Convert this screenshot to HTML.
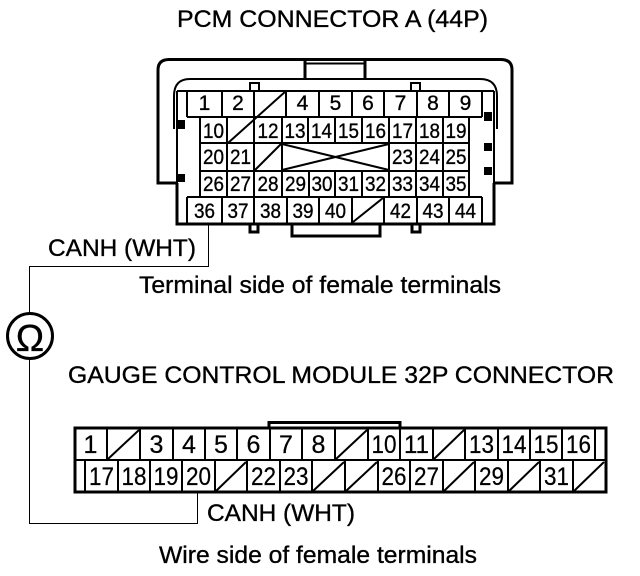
<!DOCTYPE html>
<html><head><meta charset="utf-8"><style>
html,body{margin:0;padding:0;background:#fff}
svg{display:block}
text{font-family:"Liberation Sans",Arial,sans-serif;fill:#000;stroke:#000;stroke-width:.35px}
.n text{font-size:21px;text-anchor:middle}
.g text{font-size:25px;text-anchor:middle;stroke-width:.25px}
.l{font-size:24px}
.c{fill:none;stroke:#000;stroke-width:2}
.t{fill:none;stroke:#000;stroke-width:3}
.w{fill:none;stroke:#000;stroke-width:1}
</style></head><body>
<svg width="640" height="576" viewBox="0 0 640 576" xmlns="http://www.w3.org/2000/svg">
<rect width="640" height="576" fill="#fff"/>
<text class="l" x="177" y="27" textLength="311" lengthAdjust="spacingAndGlyphs">PCM CONNECTOR A (44P)</text>
<text class="l" x="48" y="256" textLength="148" lengthAdjust="spacingAndGlyphs">CANH (WHT)</text>
<text class="l" x="139" y="293" textLength="362" lengthAdjust="spacingAndGlyphs">Terminal side of female terminals</text>
<text class="l" x="68" y="383" textLength="546" lengthAdjust="spacingAndGlyphs">GAUGE CONTROL MODULE 32P CONNECTOR</text>
<text class="l" x="207" y="521" textLength="148" lengthAdjust="spacingAndGlyphs">CANH (WHT)</text>
<text class="l" x="159" y="563" textLength="318" lengthAdjust="spacingAndGlyphs">Wire side of female terminals</text>

<!-- PCM shell -->
<path class="t" d="M177 183H158V70Q158 59.500 169 59.500H501Q512 59.500 512 70V183H494"/>
<path class="t" d="M305 59V78M365 59V78"/>
<path class="c" d="M305 63.500H365"/>
<path class="c" d="M174 129V96Q174 79 190 79H480Q497 79 497 96V129"/>
<path class="c" d="M177 91H494M177 91V183M494 91V183"/>
<path class="t" d="M177 183V224H494V183"/>
<rect x="250" y="83" width="9" height="8" class="c"/>
<rect x="411" y="83" width="9" height="8" class="c"/>
<rect x="250" y="224" width="8" height="8" class="t"/>
<rect x="412" y="224" width="8" height="8" class="t"/>
<path class="t" d="M292 224V236H380V224"/>
<rect x="177" y="120" width="8" height="9"/>
<rect x="177" y="174" width="8" height="8"/>
<rect x="484" y="112" width="8" height="9"/>
<rect x="484" y="143" width="8" height="8"/>
<rect x="484" y="167" width="8" height="8"/>

<!-- PCM grid -->
<path class="c" d="M187 91V117M222 91V117M254 91V117M286 91V117M319 91V117M352 91V117M384 91V117M417 91V117M449 91V117M482 91V117"/>
<path class="c" d="M187 117H482M200 143H469M200 171H469M187 197H482M187 197V223M222 197V223M254 197V223M287 197V223M319 197V223M352 197V223M384 197V223M417 197V223M449 197V223M482 197V223"/>
<path class="c" d="M200 117V197M227 117V197M254 117V197M282 117V197M389 117V197M416 117V197M443 117V197M469 117V197M308 117V143M335 117V143M362 117V143M309 171V197M335 171V197M362 171V197"/>
<path class="c" d="M286 91L228 143M255 170L281 144M353 222L383 198"/>
<path class="c" d="M282 144L389 170M282 170L389 144"/>

<g class="n">
<text x="204.500" y="110">1</text><text x="238" y="110">2</text><text x="302.500" y="110">4</text><text x="335.500" y="110">5</text><text x="368" y="110">6</text><text x="400.500" y="110">7</text><text x="433" y="110">8</text><text x="465.500" y="110">9</text>
<text x="213.500" y="138" textLength="21" lengthAdjust="spacingAndGlyphs">10</text><text x="268" y="138" textLength="21" lengthAdjust="spacingAndGlyphs">12</text><text x="295" y="138" textLength="21" lengthAdjust="spacingAndGlyphs">13</text><text x="321.500" y="138" textLength="21" lengthAdjust="spacingAndGlyphs">14</text><text x="348.500" y="138" textLength="21" lengthAdjust="spacingAndGlyphs">15</text><text x="375.500" y="138" textLength="21" lengthAdjust="spacingAndGlyphs">16</text><text x="402.500" y="138" textLength="21" lengthAdjust="spacingAndGlyphs">17</text><text x="429.500" y="138" textLength="21" lengthAdjust="spacingAndGlyphs">18</text><text x="456" y="138" textLength="21" lengthAdjust="spacingAndGlyphs">19</text>
<text x="213.500" y="164" textLength="21" lengthAdjust="spacingAndGlyphs">20</text><text x="240.500" y="164" textLength="21" lengthAdjust="spacingAndGlyphs">21</text><text x="402.500" y="164" textLength="21" lengthAdjust="spacingAndGlyphs">23</text><text x="429.500" y="164" textLength="21" lengthAdjust="spacingAndGlyphs">24</text><text x="456" y="164" textLength="21" lengthAdjust="spacingAndGlyphs">25</text>
<text x="213.500" y="191" textLength="21" lengthAdjust="spacingAndGlyphs">26</text><text x="240.500" y="191" textLength="21" lengthAdjust="spacingAndGlyphs">27</text><text x="268" y="191" textLength="21" lengthAdjust="spacingAndGlyphs">28</text><text x="295.500" y="191" textLength="21" lengthAdjust="spacingAndGlyphs">29</text><text x="322" y="191" textLength="21" lengthAdjust="spacingAndGlyphs">30</text><text x="348.500" y="191" textLength="21" lengthAdjust="spacingAndGlyphs">31</text><text x="375.500" y="191" textLength="21" lengthAdjust="spacingAndGlyphs">32</text><text x="402.500" y="191" textLength="21" lengthAdjust="spacingAndGlyphs">33</text><text x="429.500" y="191" textLength="21" lengthAdjust="spacingAndGlyphs">34</text><text x="456" y="191" textLength="21" lengthAdjust="spacingAndGlyphs">35</text>
<text x="204.500" y="218" textLength="21" lengthAdjust="spacingAndGlyphs">36</text><text x="238" y="218" textLength="21" lengthAdjust="spacingAndGlyphs">37</text><text x="270.500" y="218" textLength="21" lengthAdjust="spacingAndGlyphs">38</text><text x="303" y="218" textLength="21" lengthAdjust="spacingAndGlyphs">39</text><text x="335.500" y="218" textLength="21" lengthAdjust="spacingAndGlyphs">40</text><text x="400.500" y="218" textLength="21" lengthAdjust="spacingAndGlyphs">42</text><text x="433" y="218" textLength="21" lengthAdjust="spacingAndGlyphs">43</text><text x="465.500" y="218" textLength="21" lengthAdjust="spacingAndGlyphs">44</text>
</g>

<!-- wires & meter -->
<path class="w" d="M208.500 224V266.500H29.500V313M29.500 358V523.500H197.500V493"/>
<circle cx="30" cy="336" r="22.500" fill="#fff" stroke="#000" stroke-width="3"/>
<text x="30" y="351" text-anchor="middle" style="font-size:38px">Ω</text>

<!-- Gauge connector -->
<path class="t" d="M269 428V422.500H400V428"/>
<rect x="75" y="428" width="531" height="64" class="t"/>
<path class="c" d="M75 460H606"/>
<path class="c" d="M107 428V460M140 428V460M173 428V460M205 428V460M237 428V460M270 428V460M302 428V460M335 428V460M368 428V460M400 428V460M433 428V460M465 428V460M498 428V460M530 428V460M562 428V460M595 428V460"/>
<path class="c" d="M85 460V492M118 460V492M150 460V492M182 460V492M215 460V492M247 460V492M280 460V492M312 460V492M345 460V492M378 460V492M410 460V492M443 460V492M475 460V492M508 460V492M540 460V492M573 460V492"/>
<path class="c" d="M108 459L139 430M336 459L367 430M434 459L464 430M216 491L246 462M313 491L344 462M346 491L377 462M444 491L474 462M509 491L539 462M574 491L604 462"/>
<g class="g">
<text x="90.500" y="453">1</text><text x="156.500" y="453">3</text><text x="189" y="453">4</text><text x="221" y="453">5</text><text x="253.500" y="453">6</text><text x="286" y="453">7</text><text x="318.500" y="453">8</text><text x="384" y="453" textLength="25" lengthAdjust="spacingAndGlyphs">10</text><text x="416.500" y="453" textLength="25" lengthAdjust="spacingAndGlyphs">11</text><text x="481.500" y="453" textLength="25" lengthAdjust="spacingAndGlyphs">13</text><text x="514" y="453" textLength="25" lengthAdjust="spacingAndGlyphs">14</text><text x="546" y="453" textLength="25" lengthAdjust="spacingAndGlyphs">15</text><text x="578.500" y="453" textLength="25" lengthAdjust="spacingAndGlyphs">16</text>
<text x="101.500" y="485" textLength="25" lengthAdjust="spacingAndGlyphs">17</text><text x="134" y="485" textLength="25" lengthAdjust="spacingAndGlyphs">18</text><text x="166" y="485" textLength="25" lengthAdjust="spacingAndGlyphs">19</text><text x="198.500" y="485" textLength="25" lengthAdjust="spacingAndGlyphs">20</text><text x="263.500" y="485" textLength="25" lengthAdjust="spacingAndGlyphs">22</text><text x="296" y="485" textLength="25" lengthAdjust="spacingAndGlyphs">23</text><text x="394" y="485" textLength="25" lengthAdjust="spacingAndGlyphs">26</text><text x="426.500" y="485" textLength="25" lengthAdjust="spacingAndGlyphs">27</text><text x="491.500" y="485" textLength="25" lengthAdjust="spacingAndGlyphs">29</text><text x="556.500" y="485" textLength="25" lengthAdjust="spacingAndGlyphs">31</text>
</g>
</svg>
</body></html>
